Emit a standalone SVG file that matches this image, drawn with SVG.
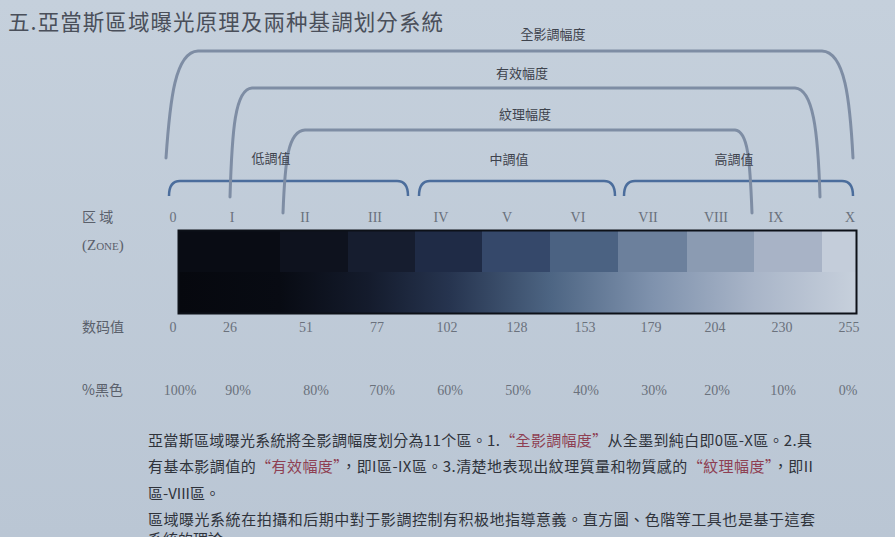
<svg xmlns="http://www.w3.org/2000/svg" width="895" height="537" viewBox="0 0 895 537">
<defs>
<linearGradient id="bg" x1="0" y1="0" x2="0" y2="1">
<stop offset="0" stop-color="#c5d0dc"/>
<stop offset="1" stop-color="#bac6d4"/>
</linearGradient>
<linearGradient id="ramp" x1="178" y1="0" x2="856" y2="0" gradientUnits="userSpaceOnUse">
<stop offset="0" stop-color="#06080e"/>
<stop offset="0.15" stop-color="#080b13"/>
<stop offset="0.28" stop-color="#141b2c"/>
<stop offset="0.4" stop-color="#26344f"/>
<stop offset="0.55" stop-color="#4d6583"/>
<stop offset="0.7" stop-color="#7f92ad"/>
<stop offset="0.85" stop-color="#a9b5c8"/>
<stop offset="1" stop-color="#c7d0dc"/>
</linearGradient>
<style>
.cap{font-family:"Noto Sans CJK TC","Noto Sans CJK SC",sans-serif;fill:#4a4f5a;}
.lbl{font-family:"Noto Sans CJK TC","Noto Sans CJK SC",sans-serif;font-size:13px;fill:#3e434d;text-anchor:middle;}
.num{font-family:"Liberation Serif",serif;font-size:14px;fill:#6a717c;text-anchor:middle;}
.row{font-family:"Noto Sans CJK SC","Noto Sans CJK TC",sans-serif;font-size:14px;fill:#5a606b;}
.arc{fill:none;stroke:#7e8da4;stroke-width:3;stroke-linecap:round;}
.brk{fill:none;stroke:#4b6d9c;stroke-width:2.5;}
.par{font-family:"Noto Sans CJK TC","Noto Sans CJK SC",sans-serif;font-size:15px;fill:#2f333b;}
.red{fill:#8e3f52;}
</style>
</defs>
<rect width="895" height="537" fill="url(#bg)"/>

<text class="cap" x="8" y="30" font-size="21.5" textLength="435" lengthAdjust="spacing">五.亞當斯區域曝光原理及兩种基調划分系統</text>

<g id="brackets">
<path class="brk" d="M169,196 Q169,181 180,181 L397,181 Q408,181 408,196"/>
<path class="brk" d="M419,196 Q419,181 430,181 L604,181 Q615,181 615,196"/>
<path class="brk" d="M624,196 Q624,181 635,181 L842,181 Q853,181 853,196"/>
</g>

<g id="connectors">
<path class="arc" d="M166,158 C170,100 175,52 198,51 L822,51 C845,52 850,100 853,158"/>
<path class="arc" d="M230,197 C232,130 235,89 252,88 L795,88 C813,89 818,130 820,197"/>
<path class="arc" d="M283,213 C285,160 288,131 305,130 L735,130 C748,131 750,160 752,213"/>
</g>

<g id="range-labels">
<text class="lbl" x="553" y="39">全影調幅度</text>
<text class="lbl" x="522" y="78">有效幅度</text>
<text class="lbl" x="525" y="119">紋理幅度</text>
<text class="lbl" x="271" y="163">低調值</text>
<text class="lbl" x="509" y="164">中調值</text>
<text class="lbl" x="734" y="164">高調值</text>
</g>

<g id="zone-row">
<text class="row" x="82" y="222">区 域</text>
<text x="82" y="250" font-family="Liberation Serif,serif" font-size="15" fill="#5a606b">(Z<tspan font-size="11">ONE</tspan>)</text>
<text class="num" x="173" y="222">0</text>
<text class="num" x="232" y="222">I</text>
<text class="num" x="305" y="222">II</text>
<text class="num" x="375" y="222">III</text>
<text class="num" x="441" y="222">IV</text>
<text class="num" x="507" y="222">V</text>
<text class="num" x="578" y="222">VI</text>
<text class="num" x="648" y="222">VII</text>
<text class="num" x="716" y="222">VIII</text>
<text class="num" x="776" y="222">IX</text>
<text class="num" x="850" y="222">X</text>
</g>

<g id="scale-bar">
<rect x="179" y="231" width="101" height="41" fill="#090c14"/>
<rect x="280" y="231" width="68" height="41" fill="#0e121e"/>
<rect x="348" y="231" width="67" height="41" fill="#161d2f"/>
<rect x="415" y="231" width="67" height="41" fill="#1f2b46"/>
<rect x="482" y="231" width="68" height="41" fill="#35486a"/>
<rect x="550" y="231" width="68" height="41" fill="#4b6282"/>
<rect x="618" y="231" width="69" height="41" fill="#6c809c"/>
<rect x="687" y="231" width="67" height="41" fill="#8b9bb2"/>
<rect x="754" y="231" width="68" height="41" fill="#a8b3c6"/>
<rect x="822" y="231" width="34" height="41" fill="#c4cdda"/>
<rect x="179" y="272" width="677" height="41" fill="url(#ramp)"/>
<rect x="178.5" y="230.5" width="678" height="83" fill="none" stroke="#0d1118" stroke-width="2"/>
</g>

<g id="value-row">
<text class="row" x="82" y="332">数码值</text>
<text class="num" x="173" y="332">0</text>
<text class="num" x="230" y="332">26</text>
<text class="num" x="306" y="332">51</text>
<text class="num" x="377" y="332">77</text>
<text class="num" x="447" y="332">102</text>
<text class="num" x="517" y="332">128</text>
<text class="num" x="585" y="332">153</text>
<text class="num" x="651" y="332">179</text>
<text class="num" x="715" y="332">204</text>
<text class="num" x="782" y="332">230</text>
<text class="num" x="849" y="332">255</text>
</g>

<g id="black-row">
<text class="row" x="82" y="395">%黑色</text>
<text class="num" x="180" y="395">100%</text>
<text class="num" x="238" y="395">90%</text>
<text class="num" x="316" y="395">80%</text>
<text class="num" x="382" y="395">70%</text>
<text class="num" x="450" y="395">60%</text>
<text class="num" x="518" y="395">50%</text>
<text class="num" x="586" y="395">40%</text>
<text class="num" x="654" y="395">30%</text>
<text class="num" x="717" y="395">20%</text>
<text class="num" x="783" y="395">10%</text>
<text class="num" x="848" y="395">0%</text>
</g>

<g id="description">
<text class="par" x="148" y="446" textLength="664" lengthAdjust="spacing">亞當斯區域曝光系統將全影調幅度划分為11个區。1.<tspan class="red">“全影調幅度”</tspan>从全墨到純白即0區-X區。2.具</text>
<text class="par" x="148" y="472" textLength="665" lengthAdjust="spacing">有基本影調值的<tspan class="red">“有效幅度”</tspan>，即I區-IX區。3.清楚地表现出紋理質量和物質感的<tspan class="red">“紋理幅度”</tspan>，即II</text>
<text class="par" x="148" y="499">區-VIII區。</text>
<text class="par" x="148" y="525" textLength="667" lengthAdjust="spacing">區域曝光系統在拍攝和后期中對于影調控制有积极地指導意義。直方圖、色階等工具也是基于這套</text>
<text class="par" x="148" y="545">系統的理論</text>
</g>
</svg>
